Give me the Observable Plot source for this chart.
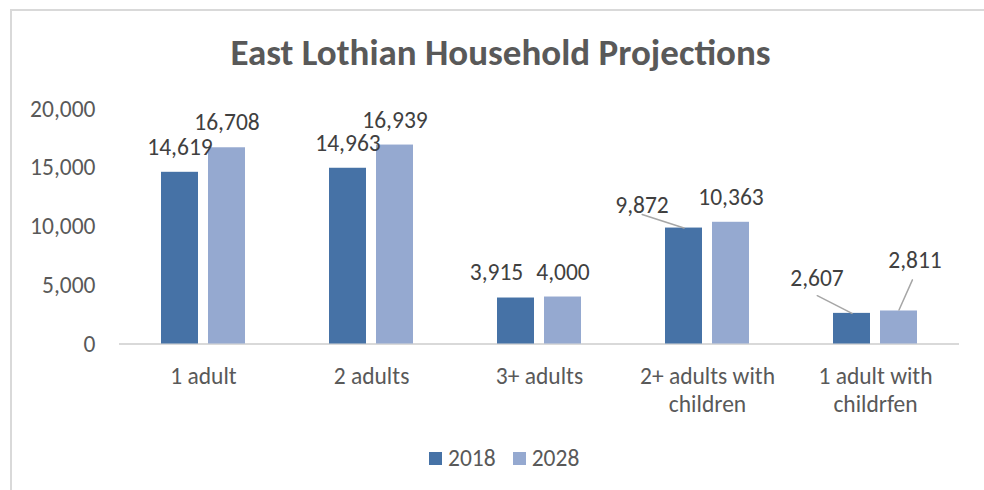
<!DOCTYPE html>
<html><head><meta charset="utf-8">
<script src="https://cdn.jsdelivr.net/npm/d3@7"></script>
<script src="https://cdn.jsdelivr.net/npm/@observablehq/plot@0.6"></script>
<style>
body{margin:0;background:#fff;font-family:Carlito,Calibri,Lato,sans-serif;}
#frame{position:absolute;left:10px;top:9px;width:972px;height:479px;border-left:2px solid #d9d9d9;border-top:2px solid #d9d9d9;}
#title{position:absolute;top:22px;left:0;width:977px;text-align:center;font-size:37px;font-weight:bold;color:#595959;line-height:40px;}
#chart{position:absolute;top:74px;left:0;}
#legend{position:absolute;top:435px;left:417px;display:flex;align-items:center;font-size:23.5px;color:#595959;line-height:24px;}
#legend span.item{display:flex;align-items:center;margin-right:17px;}
.sw{display:inline-block;width:13px;height:13px;margin-right:6px;}
</style></head><body>
<div id="frame"><div id="title">East Lothian Household Projections</div><div id="chart"></div><div id="legend"></div></div>
<script>
// ---- data ----
const categories = ["1 adult", "2 adults", "3+ adults", "2+ adults with children", "1 adult with childrfen"];
const tickLabels = ["1 adult", "2 adults", "3+ adults", "2+ adults with\nchildren", "1 adult with\nchildrfen"];
const years = ["2018", "2028"];
const values2018 = [14619, 14963, 3915, 9872, 2607];
const values2028 = [16708, 16939, 4000, 10363, 2811];
const yTicks = [0, 5000, 10000, 15000, 20000];

// ---- styling / layout ----
const colors = ["#4672a6", "#95a9d0"];
const labelColor = "#404040";
const axisColor = "#595959";
const leaderColor = "#a6a6a6";
const fontSize = 23.5;
const defaultLabel = {dx: 0, dy: -25};
// labels that were dragged away from their bars (some with leader lines)
const movedLabels = [
  {category: "3+ adults", year: "2018", dx: -19.5, dy: -26, leader: null},
  {category: "2+ adults with children", year: "2018", dx: -42, dy: -23, leader: {length: 44, rotate: -72, dy: 0}},
  {category: "1 adult with childrfen", year: "2018", dx: -35, dy: -35, leader: {length: 39, rotate: -63, dy: 0}},
  {category: "1 adult with childrfen", year: "2028", dx: 16, dy: -51, leader: {length: 33, rotate: 24, dy: -1}}
];

const data = [];
categories.forEach((c, i) => {
  data.push({category: c, year: years[0], value: values2018[i]});
  data.push({category: c, year: years[1], value: values2028[i]});
});
const fmt = d3.format(",");
const isMoved = d => movedLabels.some(m => m.category === d.category && m.year === d.year);
const leaderShape = {draw(context, l) { context.moveTo(0, 0); context.lineTo(0, -l); }};

const marks = [
  Plot.ruleY([0], {stroke: "#d9d9d9", strokeWidth: 2}),
  Plot.barY(data, {fx: "category", x: "year", y: "value", fill: "year"}),
  Plot.text(data.filter(d => !isMoved(d)), {fx: "category", x: "year", y: "value", text: d => fmt(d.value), dx: defaultLabel.dx, dy: defaultLabel.dy, fill: labelColor}),
  Plot.axisY({ticks: yTicks, tickSize: 0, tickPadding: 24, tickFormat: fmt, label: null, fill: axisColor}),
  Plot.axisFx({anchor: "bottom", tickSize: 0, tickPadding: 20, label: null, lineHeight: 1.19, fill: axisColor,
    tickFormat: d => tickLabels[categories.indexOf(d)]})
];
movedLabels.forEach(m => {
  const sel = data.filter(d => d.category === m.category && d.year === m.year);
  if (m.leader) {
    marks.push(Plot.vector(sel, {fx: "category", x: "year", y: "value", length: m.leader.length, rotate: m.leader.rotate,
      anchor: "start", dy: m.leader.dy, shape: leaderShape, stroke: leaderColor, strokeWidth: 1.5}));
  }
  marks.push(Plot.text(sel, {fx: "category", x: "year", y: "value", text: d => fmt(d.value), dx: m.dx, dy: m.dy, fill: labelColor}));
});

const chart = Plot.plot({
  width: 972,
  height: 345,
  marginLeft: 105,
  marginRight: 23,
  marginTop: 23.6,
  marginBottom: 86.5,
  style: {fontSize: fontSize + "px", fontFamily: "Carlito, Calibri, Lato, sans-serif", color: axisColor, background: "transparent"},
  fx: {domain: categories, padding: 0},
  x: {domain: years, paddingInner: 0.208, paddingOuter: 0.862, axis: null},
  y: {domain: [0, 20000], axis: null},
  color: {domain: years, range: colors},
  marks
});
document.getElementById("chart").appendChild(chart);

const legend = document.getElementById("legend");
years.forEach((y, i) => {
  const item = document.createElement("span");
  item.className = "item";
  const sw = document.createElement("span");
  sw.className = "sw";
  sw.style.background = colors[i];
  item.appendChild(sw);
  item.appendChild(document.createTextNode(y));
  legend.appendChild(item);
});
</script>
</body></html>
